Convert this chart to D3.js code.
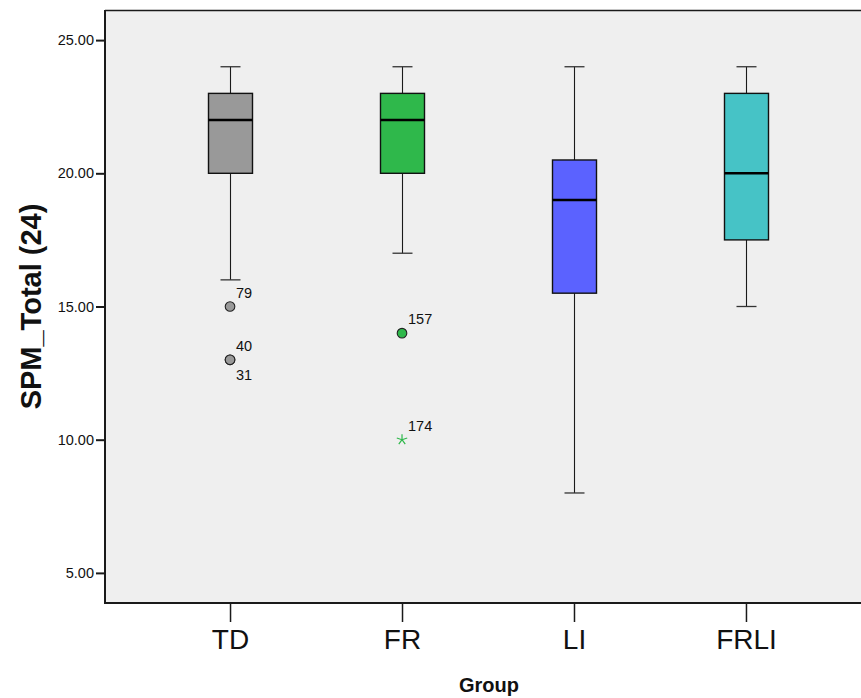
<!DOCTYPE html>
<html>
<head>
<meta charset="utf-8">
<script src="https://cdn.jsdelivr.net/npm/d3@7"></script>
<style>
  html, body { margin: 0; padding: 0; background: #ffffff; }
  svg { display: block; font-family: "Liberation Sans", Arial, sans-serif; }
</style>
</head>
<body>
<svg id="chart" width="861" height="698"></svg>
<script>
// ---- Data ----
const categories = ["TD", "FR", "LI", "FRLI"];
const whiskerLow  = [16, 17, 8, 15];
const q1          = [20, 20, 15.5, 17.5];
const medians     = [22, 22, 19, 20];
const q3          = [23, 23, 20.5, 23];
const whiskerHigh = [24, 24, 24, 24];
const boxColors   = ["#999999", "#2fb84b", "#5b62ff", "#46c3c6"];

const outlierGroups = ["TD", "TD", "TD", "FR", "FR"];
const outlierValues = [15, 13, 13, 14, 10];
const outlierIds    = ["79", "40", "31", "157", "174"];
const outlierLabelSide = ["above", "above", "below", "above", "above"];
const outlierKinds  = ["circle", "circle", "circle", "circle", "extreme"];

const yTicks = [5, 10, 15, 20, 25];
const yTitle = "SPM_Total (24)";
const xTitle = "Group";

// ---- Layout ----
const svg = d3.select("#chart");
const W = 861, H = 698;
const plotLeft = 105, plotTop = 10, plotBottom = 603, plotRight = 871;

const y = d3.scaleLinear().domain([3.87, 26.13]).range([plotBottom, plotTop]);
const x = d3.scalePoint().domain(categories).range([plotLeft, plotRight]).padding(0.727);

const boxW = 44, capW = 20;

// plot background
svg.append("rect")
  .attr("x", plotLeft).attr("y", plotTop)
  .attr("width", plotRight - plotLeft).attr("height", plotBottom - plotTop)
  .attr("fill", "#efefef");

// top border
svg.append("line")
  .attr("x1", plotLeft).attr("x2", W).attr("y1", plotTop + 0.5).attr("y2", plotTop + 0.5)
  .attr("stroke", "#1a1a1a").attr("stroke-width", 1.6);

// boxes
const boxes = categories.map((c, i) => ({
  c, lo: whiskerLow[i], q1: q1[i], med: medians[i], q3: q3[i], hi: whiskerHigh[i], color: boxColors[i]
}));

const g = svg.append("g");
boxes.forEach(b => {
  const cx = Math.round(x(b.c)) + 0.5;
  // whiskers
  g.append("line").attr("x1", cx).attr("x2", cx).attr("y1", y(b.hi)).attr("y2", y(b.q3))
    .attr("stroke", "#1a1a1a").attr("stroke-width", 1.1);
  g.append("line").attr("x1", cx).attr("x2", cx).attr("y1", y(b.q1)).attr("y2", y(b.lo))
    .attr("stroke", "#1a1a1a").attr("stroke-width", 1.1);
  // caps
  g.append("line").attr("x1", cx - capW / 2).attr("x2", cx + capW / 2)
    .attr("y1", y(b.hi)).attr("y2", y(b.hi)).attr("stroke", "#333").attr("stroke-width", 1.3);
  g.append("line").attr("x1", cx - capW / 2).attr("x2", cx + capW / 2)
    .attr("y1", y(b.lo)).attr("y2", y(b.lo)).attr("stroke", "#333").attr("stroke-width", 1.3);
  // box
  g.append("rect").attr("x", cx - boxW / 2).attr("y", y(b.q3))
    .attr("width", boxW).attr("height", y(b.q1) - y(b.q3))
    .attr("fill", b.color).attr("stroke", "#111").attr("stroke-width", 1.4);
  // median
  g.append("line").attr("x1", cx - boxW / 2).attr("x2", cx + boxW / 2)
    .attr("y1", y(b.med)).attr("y2", y(b.med))
    .attr("stroke", "#000").attr("stroke-width", 2.6);
});

// outliers
const outliers = outlierValues.map((v, i) => ({
  g: outlierGroups[i], v, id: outlierIds[i], side: outlierLabelSide[i], kind: outlierKinds[i],
  color: boxColors[categories.indexOf(outlierGroups[i])]
}));

const starType = {
  draw(ctx, size) {
    const r = Math.sqrt(size) / 2;
    for (let k = 0; k < 5; k++) {
      const a = -Math.PI / 2 + k * 2 * Math.PI / 5;
      ctx.moveTo(0, 0);
      ctx.lineTo(r * Math.cos(a), r * Math.sin(a));
    }
  }
};

outliers.forEach(o => {
  const cx = x(o.g), cy = y(o.v);
  if (o.kind === "circle") {
    g.append("circle").attr("cx", cx).attr("cy", cy).attr("r", 4.8)
      .attr("fill", o.color).attr("stroke", "#222").attr("stroke-width", 1.1);
  } else {
    g.append("path").attr("transform", `translate(${cx},${cy})`)
      .attr("d", d3.symbol().type(starType).size(120)())
      .attr("fill", "none").attr("stroke", o.color).attr("stroke-width", 1.2);
  }
  g.append("text")
    .attr("x", cx + 6)
    .attr("y", o.side === "above" ? cy - 9 : cy + 20)
    .attr("font-size", 14.5).attr("fill", "#111")
    .text(o.id);
});

// y axis
const yAxis = d3.axisLeft(y).tickValues(yTicks).tickFormat(d3.format(".2f"))
  .tickSize(9).tickPadding(2);
const ya = svg.append("g").attr("transform", `translate(${plotLeft},0)`).call(yAxis);
ya.select(".domain").remove();
ya.selectAll(".tick line").attr("stroke", "#1a1a1a").attr("stroke-width", 2);
ya.selectAll(".tick text").attr("font-size", 14.5).attr("fill", "#111")
  .attr("font-family", "'Liberation Sans', Arial, sans-serif");
svg.append("line").attr("x1", plotLeft).attr("x2", plotLeft).attr("y1", plotTop).attr("y2", plotBottom + 1)
  .attr("stroke", "#1a1a1a").attr("stroke-width", 2);

// x axis
const xAxis = d3.axisBottom(x).tickSize(19).tickPadding(7);
const xa = svg.append("g").attr("transform", `translate(0,${plotBottom})`).call(xAxis);
xa.select(".domain").remove();
xa.selectAll(".tick line").attr("stroke", "#1a1a1a").attr("stroke-width", 1.5);
xa.selectAll(".tick text").attr("font-size", 28).attr("fill", "#111")
  .attr("font-family", "'Liberation Sans', Arial, sans-serif");
svg.append("line").attr("x1", plotLeft).attr("x2", W).attr("y1", plotBottom).attr("y2", plotBottom)
  .attr("stroke", "#1a1a1a").attr("stroke-width", 2);

// titles
svg.append("text")
  .attr("transform", `translate(41,${(plotTop + plotBottom) / 2}) rotate(-90)`)
  .attr("text-anchor", "middle")
  .attr("font-size", 29).attr("font-weight", "bold").attr("fill", "#111")
  .text(yTitle);

svg.append("text")
  .attr("x", 489).attr("y", 692)
  .attr("text-anchor", "middle")
  .attr("font-size", 20).attr("font-weight", "bold").attr("fill", "#111")
  .text(xTitle);
</script>
</body>
</html>
